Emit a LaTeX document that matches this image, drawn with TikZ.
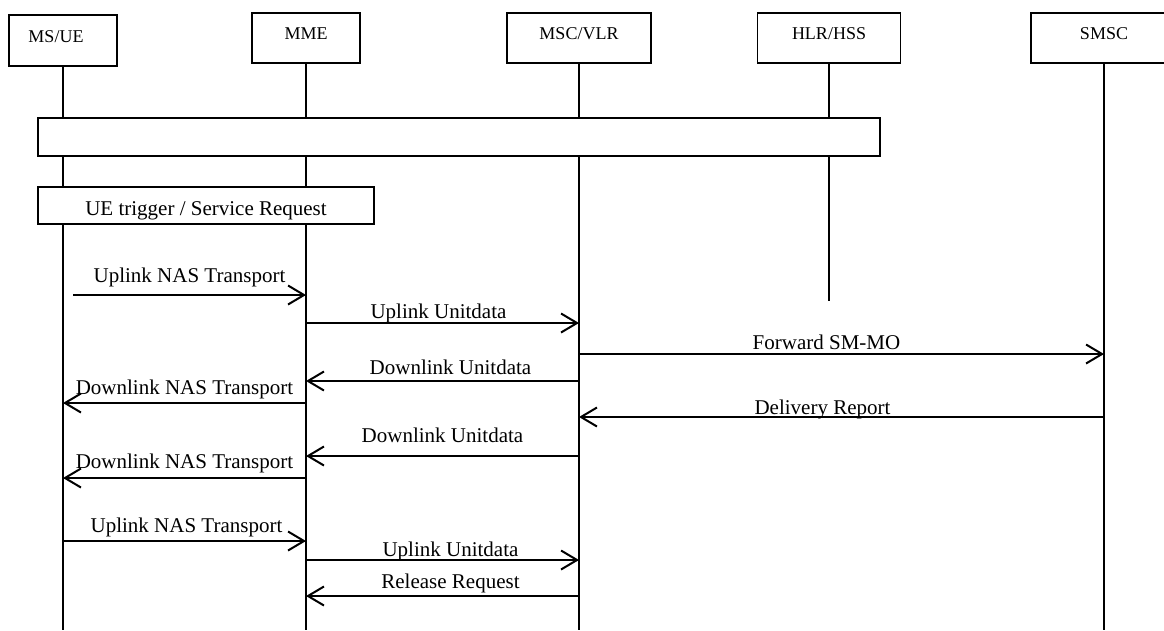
\documentclass[tikz,border=0pt]{standalone}
\usepackage{fontspec}
\setmainfont{Liberation Serif}
\usetikzlibrary{arrows.meta}

\begin{document}
\begin{tikzpicture}[
    x=1pt, y=-1pt,
    entityBox/.style={
        rectangle, draw=black, line width=1.8pt, fill=white, inner sep=0pt,
        minimum height=50pt, font=\fontsize{18}{20}\selectfont,
        text height=12pt, text depth=9pt
    },
    phaseBox/.style={
        rectangle, draw=black, line width=1.8pt, fill=white, inner sep=0pt,
        minimum height=37pt, font=\fontsize{21}{23}\selectfont
    },
    lifeLine/.style={
        line width=2pt, draw=black
    },
    msg/.style={
        -{Straight Barb[length=16pt, width=19pt, line width=2pt]}, line width=2pt, draw=black
    },
    msgTxt/.style={
        font=\fontsize{21}{23}\selectfont, anchor=base, inner sep=0pt
    }
]
\useasboundingbox (0,0) rectangle (1164,630);

% Top: network entities
\node[entityBox, minimum width=108pt, minimum height=51pt] (ue) at (63,40.5) {MS/UE\hspace*{14pt}};
\node[entityBox, minimum width=108pt] (mme) at (306,38) {MME};
\node[entityBox, minimum width=144pt] (msc) at (579,38) {MSC/VLR};
\node[entityBox, minimum width=143pt] (hlr) at (829,38) {HLR/HSS};
\node[entityBox, minimum width=146pt] (smsc) at (1104,38) {SMSC};

% Lifelines
\coordinate (ueEnd) at (63,630);
\coordinate (mmeEnd) at (306,630);
\coordinate (mscEnd) at (579,630);
\coordinate (hlrEnd) at (829,301);
\coordinate (smscEnd) at (1104,630);
\draw[lifeLine] (ue.south) -- (ueEnd);
\draw[lifeLine] (mme.south) -- (mmeEnd);
\draw[lifeLine] (msc.south) -- (mscEnd);
\draw[lifeLine] (hlr.south) -- (hlrEnd);
\draw[lifeLine] (smsc.south) -- (smscEnd);

% Phase boxes over the lifelines
\node[phaseBox, minimum width=842pt, minimum height=38pt] (attach) at (459,137) {};
\node[phaseBox, minimum width=336pt, text height=19pt, text depth=0pt] (trigger) at (206,205.5) {UE trigger / Service Request};

% Messages
\draw[msg] ([xshift=10pt]ue.center |- 0,295) -- node[msgTxt, yshift=13pt] {Uplink NAS Transport} (mme |- 0,295);
\draw[msg] (mme |- 0,323) -- node[msgTxt, yshift=5pt, xshift=-4pt] {Uplink Unitdata} (msc |- 0,323);
\draw[msg] (msc |- 0,354) -- node[msgTxt, yshift=5pt, xshift=-15pt] {Forward SM-MO} (smsc |- 0,354);
\draw[msg] (msc |- 0,381) -- node[msgTxt, yshift=7pt, xshift=8pt] {Downlink Unitdata} (mme |- 0,381);
\draw[msg] (mme |- 0,403) -- node[msgTxt, yshift=9pt] {Downlink NAS Transport} (ue |- 0,403);
\draw[msg] (smsc |- 0,417) -- node[msgTxt, yshift=3pt, xshift=-19pt] {Delivery Report} (msc |- 0,417);
\draw[msg] (msc |- 0,456) -- node[msgTxt, yshift=14pt] {Downlink Unitdata} (mme |- 0,456);
\draw[msg] (mme |- 0,478) -- node[msgTxt, yshift=10pt] {Downlink NAS Transport} (ue |- 0,478);
\draw[msg] (ue |- 0,541) -- node[msgTxt, yshift=9pt, xshift=2pt] {Uplink NAS Transport} (mme |- 0,541);
\draw[msg] (mme |- 0,560) -- node[msgTxt, yshift=4pt, xshift=8pt] {Uplink Unitdata} (msc |- 0,560);
\draw[msg] (msc |- 0,596) -- node[msgTxt, yshift=8pt, xshift=8pt] {Release Request} (mme |- 0,596);

\end{tikzpicture}
\end{document}
